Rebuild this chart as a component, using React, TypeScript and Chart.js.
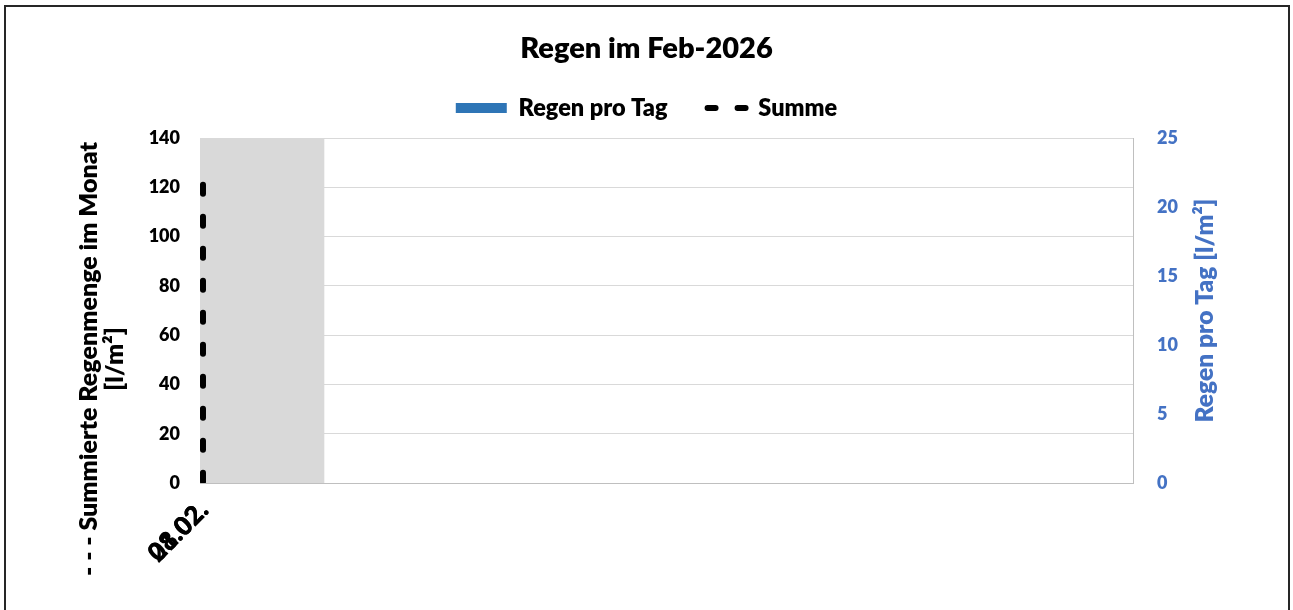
import { useEffect, useRef } from 'react';
import { Chart, registerables } from 'chart.js';

Chart.register(...registerables);

// ---- data ----
const chartTitle = 'Regen im Feb-2026';
const dayLabels = ['01.02.', '28.02.'];
const sumValues = [0, 121];
const rainValues = [0, 0];
const legendNames = ['Regen pro Tag', 'Summe'];
const leftAxisTitle = ['- - - Summierte Regenmenge im Monat', '[l/m²]'];
const rightAxisTitle = 'Regen pro Tag [l/m²]';
const xRange = [-0.09, 28];
const shadeRange = [-0.09, 3.66];
const leftRange = [0, 140, 20];
const rightRange = [0, 25, 5];

const FONT = 'Lato';
const W = '800';
const BLUE = '#4472C4';

const axisTitlePlugin = {
  id: 'axisTitles',
  afterDraw(chart: any) {
    const ctx = chart.ctx;
    const area = chart.chartArea;
    ctx.save();
    ctx.font = `${W} 25px ${FONT}`;
    ctx.fillStyle = '#000';
    ctx.textAlign = 'center';
    ctx.textBaseline = 'alphabetic';
    ctx.translate(97, 359);
    ctx.rotate(-Math.PI / 2);
    ctx.fillText(leftAxisTitle[0], 0, 0);
    ctx.fillText(leftAxisTitle[1], 0, 26);
    ctx.restore();

    ctx.save();
    ctx.font = `${W} 24.6px ${FONT}`;
    ctx.fillStyle = BLUE;
    ctx.textAlign = 'center';
    ctx.textBaseline = 'alphabetic';
    ctx.translate(1213, (area.top + area.bottom) / 2);
    ctx.rotate(-Math.PI / 2);
    ctx.fillText(rightAxisTitle, 0, 0);
    ctx.restore();
  },
};

export default function App() {
  const ref = useRef<HTMLCanvasElement>(null);

  useEffect(() => {
    if (!ref.current) return;
    Chart.defaults.font.family = FONT;
    const chart = new Chart(ref.current, {
      data: {
        datasets: [
          {
            type: 'bar',
            label: legendNames[0],
            data: rainValues.map((v) => ({ x: 0, y: v })),
            backgroundColor: '#2E75B6',
            yAxisID: 'y2',
            xAxisID: 'x',
            order: 1,
          } as any,
          {
            type: 'line',
            label: legendNames[1],
            data: sumValues.map((v) => ({ x: 0, y: v })),
            borderColor: '#000',
            backgroundColor: '#000',
            borderWidth: 6,
            borderDash: [9, 23],
            borderDashOffset: 30.7,
            borderCapStyle: 'round',
            pointRadius: 0,
            fill: false,
            yAxisID: 'y',
            xAxisID: 'x',
            order: 0,
          } as any,
          {
            type: 'line',
            label: 'shade',
            data: shadeRange.map((x) => ({ x, y: 1 })),
            borderWidth: 0,
            borderColor: 'rgba(0,0,0,0)',
            backgroundColor: '#D9D9D9',
            pointRadius: 0,
            fill: 'origin',
            yAxisID: 'yBand',
            xAxisID: 'x',
            order: 2,
          } as any,
        ],
      },
      options: {
        responsive: false,
        animation: false,
        events: [],
        layout: { padding: 0 },
        scales: {
          x: {
            type: 'linear',
            position: 'bottom',
            min: xRange[0],
            max: xRange[1],
            offset: false,
            grid: { display: true, drawOnChartArea: false, drawTicks: false, offset: false },
            border: { color: '#BFBFBF' },
            afterBuildTicks: (axis: any) => {
              axis.ticks = dayLabels.map(() => ({ value: 0 }));
            },
            ticks: {
              autoSkip: false,
              maxRotation: 45,
              minRotation: 45,
              color: '#000',
              font: { size: 26, weight: W },
              padding: 12,
              labelOffset: 1,
              callback: (_v: any, i: number) => dayLabels[i],
            },
            afterFit: (s: any) => {
              s.height = 127;
            },
          },
          xTop: {
            type: 'linear',
            position: 'top',
            display: true,
            grid: { display: false },
            border: { display: false },
            ticks: { display: false },
            afterFit: (s: any) => {
              s.height = 8.25;
            },
          },
          y: {
            type: 'linear',
            position: 'left',
            min: leftRange[0],
            max: leftRange[1],
            ticks: {
              stepSize: leftRange[2],
              color: '#000',
              font: { size: 18, weight: W },
              padding: 20,
            },
            grid: { color: '#D9D9D9', drawTicks: false },
            border: { color: '#BFBFBF' },
            afterFit: (s: any) => {
              s.width = 200;
            },
          },
          y2: {
            type: 'linear',
            position: 'right',
            min: rightRange[0],
            max: rightRange[1],
            ticks: {
              stepSize: rightRange[2],
              color: BLUE,
              font: { size: 18, weight: W },
              padding: 24,
            },
            grid: { display: true, drawOnChartArea: false, drawTicks: false },
            border: { color: '#BFBFBF' },
            afterFit: (s: any) => {
              s.width = 160;
            },
          },
          yBand: {
            type: 'linear',
            display: false,
            min: 0,
            max: 1,
          },
        },
        plugins: {
          tooltip: { enabled: false },
          title: {
            display: true,
            text: chartTitle,
            color: '#000',
            font: { size: 29, weight: W },
            padding: { top: 31, bottom: 2.45 },
          },
          legend: {
            display: true,
            position: 'top',
            labels: {
              usePointStyle: true,
              pointStyleWidth: 51,
              boxHeight: 10,
              padding: 28,
              color: '#000',
              font: { size: 23.5, weight: W },
              filter: (item: any) => item.datasetIndex !== 2,
              sort: (a: any, b: any) => a.datasetIndex - b.datasetIndex,
              generateLabels: (c: any) => {
                const items = (Chart.defaults as any).plugins.legend.labels.generateLabels(c);
                return items.map((item: any) => {
                  if (item.datasetIndex === 1) {
                    item.pointStyle = 'line';
                    item.lineWidth = 6;
                    item.lineDash = [8, 22];
                    item.lineDashOffset = 18;
                    item.lineCap = 'round';
                    item.strokeStyle = '#000';
                  } else {
                    item.pointStyle = 'rect';
                    item.lineWidth = 0;
                    item.fillStyle = '#2E75B6';
                  }
                  return item;
                });
              },
            },
          },
        },
      },
      plugins: [axisTitlePlugin],
    } as any);
    return () => chart.destroy();
  }, []);

  return (
    <div
      style={{
        position: 'absolute',
        left: 0,
        top: 0,
        width: 1293,
        height: 610,
        overflow: 'hidden',
        background: '#fff',
      }}
    >
      <canvas ref={ref} width={1293} height={610} style={{ position: 'absolute', left: 0, top: 0 }} />
      <div
        style={{
          position: 'absolute',
          left: 4,
          top: 5,
          width: 1286,
          height: 640,
          border: '2px solid #262626',
          boxSizing: 'border-box',
          pointerEvents: 'none',
        }}
      />
    </div>
  );
}
